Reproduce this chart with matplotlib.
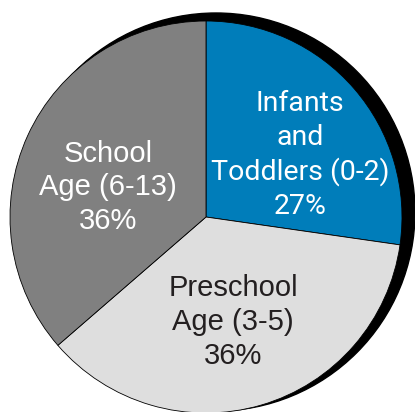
import matplotlib
matplotlib.use('Agg')
import matplotlib.pyplot as plt
from matplotlib.patches import Circle

# data
groups = ["Infants\nand\nToddlers (0-2)", "Preschool\nAge (3-5)", "School\nAge (6-13)"]
shares = [27, 36, 36]
colors = ["#007dba", "#dedede", "#808080"]
text_colors = ["white", "#231f20", "white"]

W, H = 415, 412
fig = plt.figure(figsize=(W / 100, H / 100), dpi=100)
ax = fig.add_axes([0, 0, 1, 1])

# black shadow behind the pie
ax.add_patch(Circle((216, H - 212), 199, color='black', zorder=0))

ax.pie(shares, colors=colors, startangle=90, counterclock=False,
       center=(206, H - 217), radius=196,
       wedgeprops=dict(edgecolor='black', linewidth=0.6))

# label placement (pixel coords, y from top)
label_pos = [(300, 155), (233, 322), (108, 187)]
fonts = ["Roboto", "Liberation Sans", "Liberation Sans"]
sizes = [20.5, 21, 21]
spacing = [1.3, 1.25, 1.25]

for name, s, (x, y), c, f, fs, ls in zip(groups, shares, label_pos, text_colors, fonts, sizes, spacing):
    ax.text(x, H - y, f"{name}\n{s}%", ha='center', va='center', color=c,
            family=f, fontsize=fs, linespacing=ls, multialignment='center')

ax.set_xlim(0, W)
ax.set_ylim(0, H)
ax.set_aspect('equal')
ax.axis('off')

fig.savefig("out.png", dpi=100, facecolor='white')
